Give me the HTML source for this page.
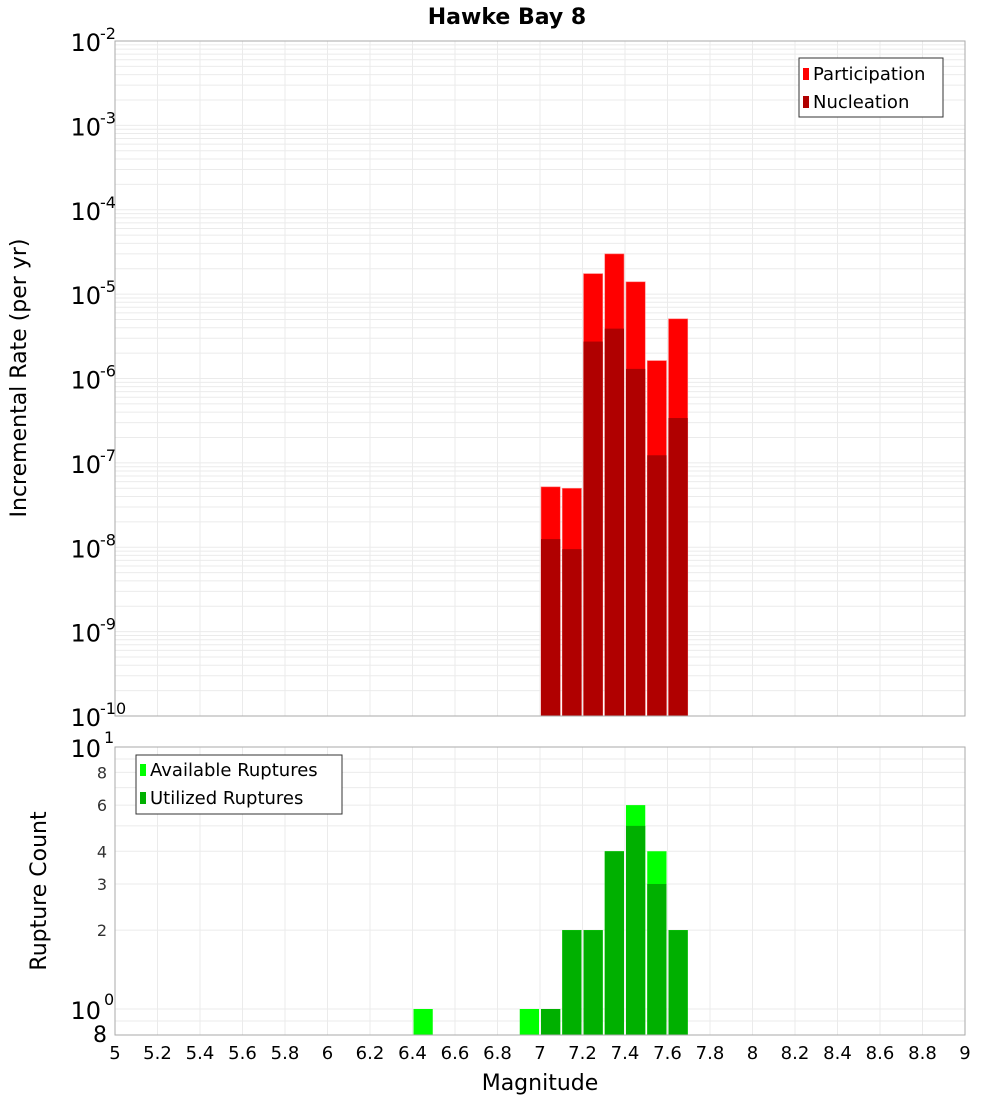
<!DOCTYPE html>
<html><head><meta charset="utf-8"><style>
body{margin:0;background:#fff;}
svg{display:block;font-family:"DejaVu Sans","Liberation Sans",sans-serif;}
</style></head><body>
<svg id="chart" width="1000" height="1100" xmlns="http://www.w3.org/2000/svg">
<text x="507" y="24" text-anchor="middle" font-size="22" font-weight="bold">Hawke Bay 8</text>
<g id="topPlot"></g>
<g id="botPlot"></g>
<text transform="translate(26,378) rotate(-90)" text-anchor="middle" font-size="22">Incremental Rate (per yr)</text>
<text transform="translate(46,891) rotate(-90)" text-anchor="middle" font-size="22">Rupture Count</text>
<text x="540" y="1090" text-anchor="middle" font-size="22">Magnitude</text>
<g>
<rect x="799" y="58" width="144" height="59" fill="#fff" stroke="#333" stroke-width="1"/>
<rect x="803" y="68" width="6" height="12" fill="#ff0000"/>
<text x="813" y="80" font-size="18">Participation</text>
<rect x="803" y="96" width="6" height="12" fill="#b00000"/>
<text x="813" y="108" font-size="18">Nucleation</text>
</g>
<g>
<rect x="136" y="755" width="206" height="59" fill="#fff" stroke="#333" stroke-width="1"/>
<rect x="140" y="764" width="6" height="12" fill="#00ff00"/>
<text x="150" y="776" font-size="18">Available Ruptures</text>
<rect x="140" y="792" width="6" height="12" fill="#00b000"/>
<text x="150" y="804" font-size="18">Utilized Ruptures</text>
</g>
</svg>
<script>
const mags = [7.05, 7.15, 7.25, 7.35, 7.45, 7.55, 7.65];
const participation = [5.2e-8, 5.0e-8, 1.75e-5, 3.0e-5, 1.4e-5, 1.63e-6, 5.1e-6];
const nucleation = [1.25e-8, 9.5e-9, 2.74e-6, 3.9e-6, 1.3e-6, 1.23e-7, 3.4e-7];
const availMags = [6.45, 6.95, 7.05, 7.15, 7.25, 7.35, 7.45, 7.55, 7.65];
const available = [1, 1, 1, 2, 2, 4, 6, 4, 2];
const utilMags = [7.05, 7.15, 7.25, 7.35, 7.45, 7.55, 7.65];
const utilized = [1, 2, 2, 4, 5, 3, 2];
const xTicks = ["5","5.2","5.4","5.6","5.8","6","6.2","6.4","6.6","6.8","7","7.2","7.4","7.6","7.8","8","8.2","8.4","8.6","8.8","9"];
const topExps = [-2,-3,-4,-5,-6,-7,-8,-9,-10];
const botTicks = ["8","6","4","3","2"];

const NS="http://www.w3.org/2000/svg";
const L=115,R=965,T1=41,B1=716,T2=747,B2=1035;
const xs=v=>L+(v-5)*(R-L)/4;
const yTop=v=>T1+(-2-Math.log10(v))*(B1-T1)/8;
const yBot=v=>1009-Math.log10(v)*262;
function mk(p,tag,a,txt){const e=document.createElementNS(NS,tag);for(const k in a)e.setAttribute(k,a[k]);if(txt!=null)e.textContent=txt;p.appendChild(e);return e;}
const topG=document.getElementById('topPlot'),botG=document.getElementById('botPlot'),svgEl=document.getElementById('chart');
for(let e=-10;e<-2;e++)for(let m=1;m<10;m++){const yy=yTop(m*Math.pow(10,e));if(yy<T1)continue;
 const g=mk(topG,'line',{x1:L,x2:R,y1:yy,y2:yy,stroke:'#ebebeb','stroke-width':1});
 
 }
xTicks.forEach(t=>{const xx=xs(+t);
 const g=mk(topG,'line',{x1:xx,x2:xx,y1:T1,y2:B1,stroke:'#ebebeb'});
 
 
 const g2=mk(botG,'line',{x1:xx,x2:xx,y1:T2,y2:B2,stroke:'#ebebeb'});
 
 
 const lb=mk(svgEl,'text',{x:xx,y:1059,'text-anchor':'middle','font-size':18},t);
 
 });
for(let v=1;v<=10;v++){const yy=yBot(v);
 const g=mk(botG,'line',{x1:L,x2:R,y1:yy,y2:yy,stroke:'#ebebeb'});
 
 }
{const g=mk(botG,'line',{x1:L,x2:R,y1:yBot(0.9),y2:yBot(0.9),stroke:'#ebebeb'});
 
 }
const bw=(R-L)/40;
mags.forEach((m,i)=>{
 const x0=xs(m)-bw/2+1;
 const p=mk(topG,'rect',{x:x0,y:yTop(participation[i]),width:bw-2,height:B1-yTop(participation[i]),fill:'#ff0000',stroke:'#ff8080','stroke-width':0.6});
 
 
 const n=mk(topG,'rect',{x:x0,y:yTop(nucleation[i]),width:bw-2,height:B1-yTop(nucleation[i]),fill:'#b00000'});
 
 });
availMags.forEach((m,i)=>{const x0=xs(m)-bw/2+1;
 const r=mk(botG,'rect',{x:x0,y:yBot(available[i]),width:bw-2,height:B2-yBot(available[i]),fill:'#00ff00'});
 
 });
utilMags.forEach((m,i)=>{const x0=xs(m)-bw/2+1;
 const r=mk(botG,'rect',{x:x0,y:yBot(utilized[i]),width:bw-2,height:B2-yBot(utilized[i]),fill:'#00b000'});
 
 });
mk(topG,'rect',{x:L,y:T1,width:R-L,height:B1-T1,fill:'none',stroke:'#aaa'});
mk(botG,'rect',{x:L,y:T2,width:R-L,height:B2-T2,fill:'none',stroke:'#aaa'});
topExps.forEach(e=>{const yy=yTop(Math.pow(10,e));
 const t=mk(svgEl,'text',{x:101,y:yy+10,'text-anchor':'end','font-size':24},'10');
 
 
 const s=mk(svgEl,'text',{x:100,y:yy-2,'font-size':16},String(e));
 
 });
botTicks.forEach(t=>{const yy=yBot(+t);
 const lb=mk(svgEl,'text',{x:107,y:yy+6,'text-anchor':'end','font-size':16,fill:'#333'},t);
 
 });
[[1,'10','1'],[0,'10','0']].forEach(([e,b,s])=>{const yy=yBot(Math.pow(10,e));
 const t=mk(svgEl,'text',{x:101,y:yy+10,'text-anchor':'end','font-size':24},b);
 
 
 const ex=mk(svgEl,'text',{x:104,y:yy-4,'font-size':16},s);
 
 });
{const t=mk(svgEl,'text',{x:107,y:1042,'text-anchor':'end','font-size':22},'8');
 
 }
</script>
</body></html>
